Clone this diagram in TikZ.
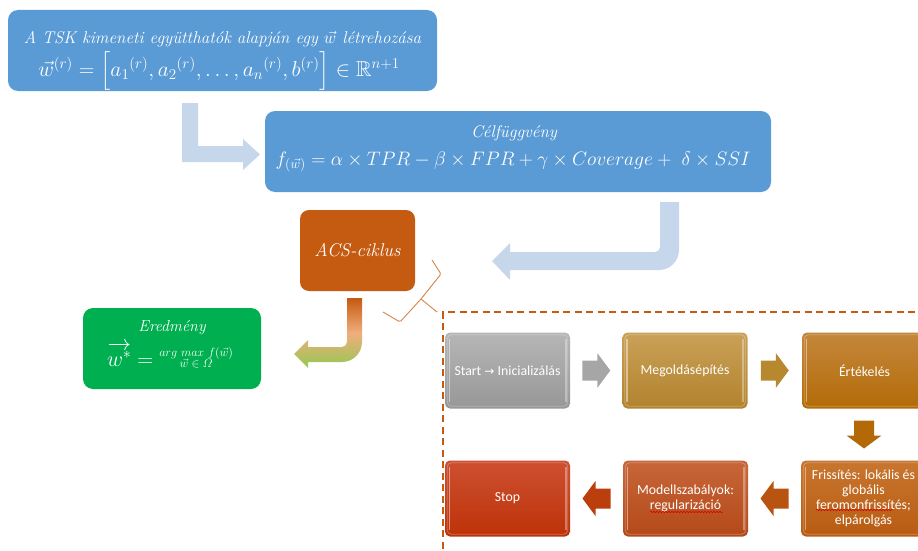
\RequirePackage{fix-cm}
\documentclass[tikz,border=0pt]{standalone}
\usepackage{amsmath,amssymb}
\usepackage{fontspec}
\newfontfamily\boxfont{Carlito}
\newfontfamily\symfont{DejaVu Sans}
\usetikzlibrary{calc,decorations.pathmorphing}

\definecolor{officeblue}{HTML}{5B9BD5}
\definecolor{paleblue}{HTML}{C6D6EB}
\definecolor{acsorange}{HTML}{C55A11}
\definecolor{resgreen}{HTML}{00B050}
\definecolor{peach}{HTML}{F0AE7C}
\definecolor{leafgreen}{HTML}{95C852}
\definecolor{bracecol}{HTML}{D4844E}
% process box fills (top / bottom)
\definecolor{grayT}{HTML}{B6B6B6}\definecolor{grayB}{HTML}{979797}
\definecolor{goldT}{HTML}{CAA159}\definecolor{goldB}{HTML}{B2832D}
\definecolor{ambrT}{HTML}{C4873C}\definecolor{ambrB}{HTML}{B46B07}
\definecolor{rustT}{HTML}{C8762F}\definecolor{rustB}{HTML}{B85B12}
\definecolor{brikT}{HTML}{C7663A}\definecolor{brikB}{HTML}{B44918}
\definecolor{stopT}{HTML}{CD5031}\definecolor{stopB}{HTML}{BD3208}
% block arrow fills
\definecolor{arrGray}{HTML}{A6A6A6}
\definecolor{arrGold}{HTML}{B8882F}
\definecolor{arrAmbr}{HTML}{B36905}
\definecolor{arrRust}{HTML}{B85312}
\definecolor{arrBrik}{HTML}{BA3F0C}

% soft bevel: thin inner rim plus light strips along both sides
\newcommand\bevelize[1]{%
  \draw[white,opacity=.28,line width=.8,rounded corners=4]
    ([shift={(2.5,2.5)}]#1.north west) rectangle ([shift={(-2.5,-2.5)}]#1.south east);
  \draw[white,opacity=.45,line width=1.6]
    ([shift={(4.5,7)}]#1.north west) -- ([shift={(4.5,-7)}]#1.south west);
  \draw[white,opacity=.35,line width=1.6]
    ([shift={(-4.5,7)}]#1.north east) -- ([shift={(-4.5,-7)}]#1.south east);}

\begin{document}
\begin{tikzpicture}[x=1pt,y=-1pt,
  bluebox/.style={fill=officeblue,rounded corners=10,inner sep=0,minimum height=81},
  acsbox/.style={fill=acsorange,rounded corners=9,text=white,align=center,
    inner sep=0,minimum width=115,minimum height=81},
  resbox/.style={fill=resgreen,rounded corners=10,inner sep=0,
    minimum width=178,minimum height=81},
  boxtext/.style={text=white,inner sep=0},
  procbox/.style={rounded corners=5,text=white,align=center,inner sep=0,
    minimum width=125,minimum height=76,
    font=\boxfont\fontsize{13.8}{15.2}\selectfont},
  spellmark/.style={red!85!black,line width=.5,decorate,
    decoration={snake,segment length=3,amplitude=.7}},
  pics/blockarrow/.style={code={
    \fill[pic actions] (-14,-10) -- (1,-10) -- (1,-17.5) -- (14,0)
      -- (1,17.5) -- (1,10) -- (-14,10) -- cycle;}}]
\useasboundingbox (0,0) rectangle (918,551);

% ---------- upper part ----------
\node[bluebox,minimum width=429] (tsk) at (222.5,50.5) {};
\node[boxtext] (tskTitle) at (222.5,39)
  {\fontsize{17}{20}\selectfont\itshape A TSK kimeneti együtthatók alapján egy $\vec{w}$ létrehozása};
\node[boxtext] (tskVec) at (219,71)
  {\fontsize{21.5}{24}\selectfont $\vec{w}^{(r)}=\Big[a_1{}^{(r)},a_2{}^{(r)},\dots,a_n{}^{(r)},b^{(r)}\Big]\in\mathbb{R}^{n+1}$};

\node[bluebox,minimum width=506] (cel) at (518,151.5) {};
\node[boxtext] (celTitle) at (514,133) {\fontsize{17}{19}\selectfont\itshape Célfüggvény};
\node[boxtext] (celFormula) at (513,162)
  {\fontsize{19.5}{22}\selectfont $f_{(\vec{w})}=\alpha\times TPR-\beta\times FPR+\gamma\times Coverage+\ \delta\times SSI$};

\node[acsbox] (acs) at (357.5,250.5) {\fontsize{18.5}{21}\selectfont\itshape ACS-ciklus};

\node[resbox] (res) at (172,348.5) {};
\node[boxtext] (resTitle) at (172,328) {\fontsize{16}{19}\selectfont\itshape Eredmény};
\node[boxtext] (resFormula) at (170,357)
  {{\fontsize{22}{24}\selectfont $\overrightarrow{w^{*}}={}$}%
   \raisebox{4pt}{\fontsize{12}{13}\selectfont$\begin{array}{@{}c@{}}arg\ max\ f(\vec{w})\\[-2pt]\vec{w}\in\varOmega\end{array}$}};

% bent arrow from the first box to the objective box
\fill[paleblue] (182,103) -- (198,103) -- (198,146) -- (243,146) -- (243,139)
  -- (260,154.5) -- (243,170) -- (243,162) -- (182,162) -- cycle;

% U-turn arrow from the objective box towards the ACS cycle
\fill[paleblue] (660,202) -- (679,202) -- (679,250)
  arc[start angle=0,end angle=90,radius=20] -- (510,270) -- (510,280)
  -- (492,261) -- (510,243) -- (510,252) -- (655,252)
  arc[start angle=90,end angle=0,radius=5] -- cycle;

% gradient arrow from the ACS cycle to the result
\shade[top color=acsorange,bottom color=leafgreen,middle color=peach]
  (347,298) -- (362,298) -- (362,342)
  arc[start angle=0,end angle=90,radius=20] -- (308,362) -- (308,368)
  -- (294,354) -- (308,340) -- (308,347) -- (342,347)
  arc[start angle=90,end angle=0,radius=5] -- cycle;

% brace pointing at the cycle details
\draw[bracecol,line width=.9,line join=round,rounded corners=1.5]
  (383,312) -- (400,322) -- (421,299) -- (441,274) -- (432,260);
\draw[bracecol,line width=.9] (421,299) -- (437,312);

% dashed frame around the cycle details
\draw[acsorange,line width=1.4,dash pattern=on 7pt off 4.5pt]
  (443,560) -- (443,312) -- (930,312);

% ---------- cycle steps ----------
\node[procbox,top color=grayT,bottom color=grayB] (start) at (507.5,370.5)
  {Start {\symfont\fontsize{12}{13}\selectfont →} Inicializálás};
\node[procbox,top color=goldT,bottom color=goldB] (build) at (685,370.5) {Megoldásépítés};
\node[procbox,top color=ambrT,bottom color=ambrB] (eval) at (864.5,370.5) {Értékelés};
\node[procbox,top color=rustT,bottom color=rustB] (upd) at (863.5,498.5)
  {Frissítés: lokális és\\globális\\feromonfrissítés;\\elpárolgás};
\node[procbox,top color=brikT,bottom color=brikB] (reg) at (685.5,498.5)
  {Modellszabályok:\\regularizáció};
\node[procbox,top color=stopT,bottom color=stopB] (stop) at (507.5,498.5) {Stop};

\bevelize{start}\bevelize{build}\bevelize{eval}
\bevelize{upd}\bevelize{reg}\bevelize{stop}

\pic[fill=arrGray] at ($(start.east)!.5!(build.west)$) {blockarrow};
\pic[fill=arrGold] at ($(build.east)!.5!(eval.west)$) {blockarrow};
\pic[fill=arrAmbr,rotate=-90] at ($(eval.south)!.5!(upd.north)$) {blockarrow};
\pic[fill=arrRust,rotate=180] at ($(upd.west)!.5!(reg.east)$) {blockarrow};
\pic[fill=arrBrik,rotate=180] at ($(reg.west)!.5!(stop.east)$) {blockarrow};

% spell-check marks
\draw[spellmark] (650,512) -- (723,512);
\draw[spellmark] (816,510) -- (893,510);
\end{tikzpicture}
\end{document}
